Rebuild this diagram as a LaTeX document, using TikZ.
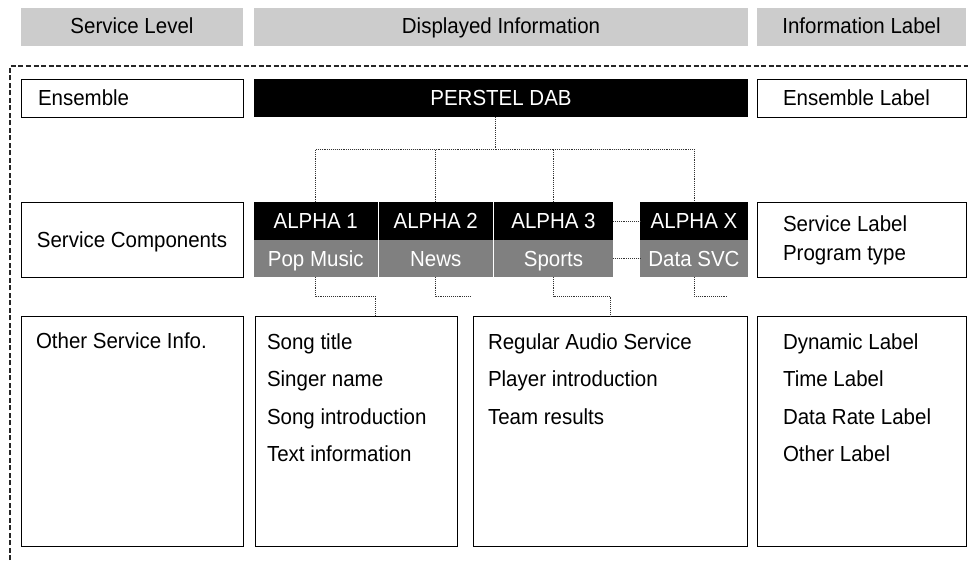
\documentclass[tikz,border=0pt]{standalone}
\usepackage{fontspec}
\setmainfont[FakeStretch=0.94]{Liberation Sans}
\usetikzlibrary{shadows}
\definecolor{hdrgray}{HTML}{CCCCCC}
\definecolor{cellgray}{HTML}{808080}
\tikzset{
  rect/.style args={#1,#2,#3,#4}{anchor=north west, at={(#1,-#2)},
    minimum width={(#3-#1)*1pt}, minimum height={(#4-#2)*1pt},
    inner sep=0pt, outer sep=0pt},
  fnt/.style={font=\fontsize{21.8}{26}\selectfont},
  ctr/.style={fnt, text height=15.6pt, text depth=0pt, align=center},
  hdr/.style={fill=hdrgray, ctr, text depth=3.5pt},
  box/.style={draw=black, line width=0.7pt, fill=white,
    general shadow={fill=black!45, shadow xshift=1.2pt, shadow yshift=-1.2pt}},
  blk/.style={fill=black, text=white, ctr},
  gry/.style={fill=cellgray, text=white, ctr},
  txt/.style={fnt, anchor=base west, inner sep=0pt, outer sep=0pt},
  conn/.style={draw=black!80, line width=0.8pt, dash pattern=on 0.8pt off 1.1pt},
  frame/.style={draw=black!85, line width=1.1pt, dash pattern=on 5pt off 2.5pt}
}
\begin{document}
\begin{tikzpicture}[x=1pt,y=1pt]
\useasboundingbox (0,0) rectangle (968,-560);
\fill[white] (0,0) rectangle (968,-560);

% dashed frame
\coordinate (fbl) at (10,-560);
\coordinate (ftl) at (10,-66);
\coordinate (ftr) at (968,-66);
\draw[frame] (fbl) -- (ftl) -- (ftr);

% headers
\node[hdr, rect={21,8,243,46}] (hsl) {Service Level};
\node[hdr, rect={254,8,748,46}] (hdi) {Displayed Information};
\node[hdr, rect={757,8,966,46}] (hil) {Information Label};

% row 1
\node[box, rect={21,79,243,117}] (ens) {};
\node[txt] (enst) at (38,-105) {Ensemble};
\node[blk, rect={254,79,748,117}] (pers) {PERSTEL DAB};
\node[box, rect={757,79,966,117}] (enl) {};
\node[txt] (enlt) at (783,-105) {Ensemble Label};

% row 2
\node[box, ctr, rect={21,202,243,277}] (sc) {Service Components};
\node[blk, rect={254,202,377.5,240}] (a1) {ALPHA 1};
\node[gry, rect={254,240,377.5,277}] (g1) {Pop Music};
\node[blk, rect={379,202,492.5,240}] (a2) {ALPHA 2};
\node[gry, rect={379,240,492.5,277}] (g2) {News};
\node[blk, rect={494,202,613,240}] (a3) {ALPHA 3};
\node[gry, rect={494,240,613,277}] (g3) {Sports};
\node[blk, rect={640,202,748,240}] (ax) {ALPHA X};
\node[gry, rect={640,240,748,277}] (gx) {Data SVC};
\node[box, rect={757,202,966,277}] (sl) {};
\node[txt] (slt1) at (783,-231) {Service Label};
\node[txt] (slt2) at (783,-260) {Program type};

% row 3
\node[box, rect={21,316,243,546}] (osi) {};
\node[txt] (osit) at (36,-348) {Other Service Info.};
\node[box, rect={255,316,457,546}] (song) {};
\node[txt] (s1) at (267,-349) {Song title};
\node[txt] (s2) at (267,-386.5) {Singer name};
\node[txt] (s3) at (267,-424) {Song introduction};
\node[txt] (s4) at (267,-461) {Text information};
\node[box, rect={473,316,747,546}] (reg) {};
\node[txt] (r1) at (488,-349) {Regular Audio Service};
\node[txt] (r2) at (488,-386.5) {Player introduction};
\node[txt] (r3) at (488,-424) {Team results};
\node[box, rect={757,316,966,546}] (dyn) {};
\node[txt] (d1) at (783,-349) {Dynamic Label};
\node[txt] (d2) at (783,-386.5) {Time Label};
\node[txt] (d3) at (783,-424) {Data Rate Label};
\node[txt] (d4) at (783,-461) {Other Label};

% upper connectors
\coordinate (pd) at ([xshift=-6pt]pers.south);
\draw[conn] (pd) -- (pd |- 0,-149);
\draw[conn] (a1.north) |- (ax.north |- 0,-149) -- (ax.north);
\draw[conn] (a2.north) -- (a2.north |- 0,-149);
\draw[conn] (a3.north) -- (a3.north |- 0,-149);
\draw[conn] (a3.east) -- (ax.west);
\draw[conn] (g3.east) -- (gx.west);

% lower connectors
\coordinate (k1) at (375,-296);
\coordinate (k2) at (470,-296);
\coordinate (k3) at (610,-296);
\coordinate (k4) at (728,-296);
\draw[conn] (g1.south) |- (k1) -- (k1 |- song.north);
\draw[conn] (g2.south) |- (k2);
\draw[conn] (g3.south) |- (k3) -- (k3 |- reg.north);
\draw[conn] (gx.south) |- (k4);
\end{tikzpicture}
\end{document}
